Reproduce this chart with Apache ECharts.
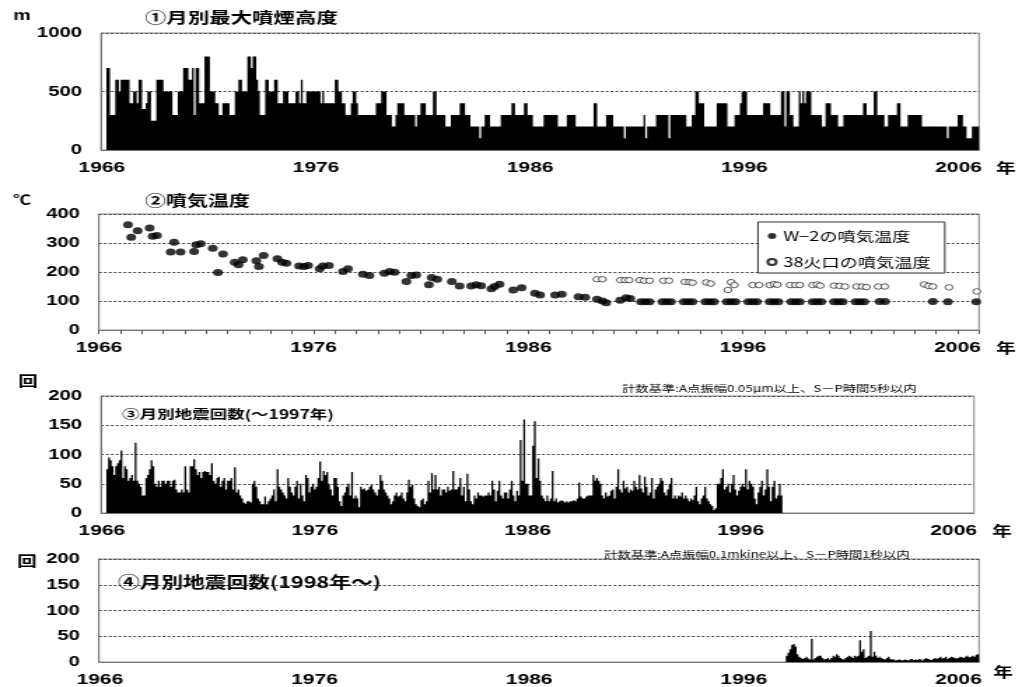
<!DOCTYPE html>
<html>
<head>
<meta charset="utf-8">
<title>月別最大噴煙高度・噴気温度・月別地震回数</title>
<script src="https://cdn.jsdelivr.net/npm/echarts@6/dist/echarts.min.js"></script>
<style>
html, body { margin: 0; padding: 0; background: #fff; overflow: hidden; }
/* the original figure is stretched sideways, so the whole chart is too */
#main { width: 726px; height: 687px; transform: scaleX(1.4); transform-origin: 0 0; }
</style>
</head>
<body>
<div id="main"></div>
<script>
var startYear = 1966, endYear = 2007;

// ①月別最大噴煙高度 (m), 1966-2006, one row per year
var smokeHeight = [
	[0,0,0,700,700,300,300,300,600,600,500,600],
	[600,600,600,600,400,400,500,500,400,600,600,350],
	[350,400,500,500,250,250,250,600,600,600,600,500],
	[500,500,500,500,300,300,300,500,500,500,700,700],
	[700,600,600,700,300,700,700,400,400,400,800,800],
	[800,500,500,500,400,400,300,300,400,400,400,400],
	[300,300,300,500,500,600,600,500,500,500,800,800],
	[700,800,800,600,500,300,300,300,600,600,500,500],
	[500,600,600,400,400,400,500,500,500,400,400,400],
	[400,500,500,400,600,400,400,500,500,500,500,500],
	[500,500,500,400,500,400,400,400,400,400,400,600],
	[600,500,500,400,400,300,300,300,400,500,500,400],
	[300,300,300,300,300,300,300,300,300,300,400,400],
	[400,500,500,500,300,300,300,200,200,300,400,400],
	[400,400,300,300,300,300,300,300,200,300,300,400],
	[400,400,300,300,300,300,500,500,300,300,300,300],
	[300,200,200,200,300,300,300,300,300,400,400,400],
	[300,300,300,200,200,200,200,200,100,200,200,300],
	[300,300,200,200,200,200,200,200,300,300,300,300],
	[300,300,400,400,300,300,300,300,300,400,400,300],
	[300,300,200,200,200,200,200,200,300,300,300,300],
	[300,300,300,300,200,200,200,200,200,300,300,300],
	[300,300,200,200,200,200,200,200,200,200,200,200],
	[400,400,200,200,200,200,200,300,300,300,300,200],
	[200,200,200,200,200,100,200,200,200,200,200,200],
	[200,200,200,200,300,100,200,200,200,200,200,300],
	[300,300,300,300,300,300,100,300,300,300,300,300],
	[300,300,300,300,200,200,200,300,300,500,500,400],
	[400,400,200,200,200,200,200,200,200,400,400,400],
	[400,400,400,200,200,200,200,300,300,300,400,500],
	[500,500,300,300,300,300,300,300,300,300,300,400],
	[400,400,400,300,300,300,300,300,300,500,500,200],
	[500,500,300,300,200,200,200,500,400,500,400,500],
	[500,500,300,300,300,300,300,300,200,200,400,400],
	[400,300,300,300,300,200,200,200,300,300,300,300],
	[300,300,300,300,300,300,300,400,400,300,300,300],
	[300,500,500,300,300,300,300,200,200,300,300,300],
	[300,300,400,400,200,200,200,200,300,300,300,300],
	[300,300,300,300,200,200,200,200,200,200,200,200],
	[200,200,200,200,200,200,100,200,200,200,200,200],
	[300,300,300,200,200,100,100,100,200,200,200,200]
];

// ②噴気温度 (℃): [year, value]
var w2Temp = [
	[1967.35,363],[1967.5,320],[1967.8,342],
	[1968.36,352],[1968.5,323],[1968.7,326],
	[1969.34,269],[1969.5,303],[1969.8,269],
	[1970.43,271],[1970.53,294],[1970.74,297],
	[1971.3,282],[1971.54,198],[1971.78,262],
	[1972.32,234],[1972.5,225],[1972.7,242],
	[1973.33,239],[1973.45,219],[1973.67,257],
	[1974.31,246],[1974.53,234],[1974.73,230],
	[1975.32,221],[1975.55,219],[1975.74,222],
	[1976.28,211],[1976.43,221],[1976.71,222],
	[1977.37,202],[1977.6,211],
	[1978.3,192],[1978.6,188],
	[1979.3,196],[1979.54,202],[1979.77,199],
	[1980.32,167],[1980.55,188],[1980.78,190],
	[1981.37,156],[1981.5,181],[1981.76,175],
	[1982.44,167],[1982.8,152],
	[1983.34,152],[1983.57,156],[1983.8,153],
	[1984.28,142],[1984.43,150],[1984.66,158],
	[1985.3,138],[1985.69,146],
	[1986.31,127],[1986.55,121],
	[1987.25,121],[1987.56,123],
	[1988.34,115],[1988.65,113],
	[1989.2,106],[1989.45,100],[1989.63,94],
	[1990.28,103],[1990.56,111],[1990.75,109],
	[1991.25,97],[1991.45,97],[1991.65,97],
	[1992.25,97],[1992.45,97],[1992.65,97],
	[1993.25,97],[1993.45,97],[1993.65,97],
	[1994.25,97],[1994.45,97],[1994.65,97],
	[1995.25,97],[1995.45,97],[1995.65,97],
	[1996.25,97],[1996.45,97],[1996.65,97],
	[1997.25,97],[1997.45,97],[1997.65,97],
	[1998.25,97],[1998.45,97],[1998.65,97],
	[1999.25,97],[1999.45,97],[1999.65,97],
	[2000.25,97],[2000.45,97],[2000.65,97],
	[2001.25,97],[2001.45,97],[2001.65,97],
	[2002.37,98],[2002.62,98],
	[2004.85,98],[2005.55,97],[2006.87,97]
];
var crater38Temp = [
	[1989.2,175],[1989.45,175],
	[1990.3,172],[1990.5,172],[1990.7,172],
	[1991.2,172],[1991.4,170],[1991.65,170],
	[1992.3,170],[1992.55,170],
	[1993.3,166],[1993.5,165],[1993.65,163],
	[1994.3,164],[1994.5,160],
	[1995.3,138],[1995.45,165],[1995.6,155],
	[1996.45,155],[1996.75,155],
	[1997.25,155],[1997.45,158],[1997.6,156],
	[1998.2,155],[1998.45,155],[1998.65,155],
	[1999.25,155],[1999.45,157],[1999.6,153],
	[2000.25,153],[2000.5,152],[2000.75,150],
	[2001.3,150],[2001.55,150],[2001.75,148],
	[2002.3,150],[2002.6,150],
	[2004.45,157],[2004.65,152],[2004.85,150],
	[2005.6,147],
	[2006.9,133]
];

// ③月別地震回数(～1997年), 1966-1997
var quakeOld = [
	[0,0,0,75,95,90,80,65,80,85,90,107],
	[60,80,75,55,60,65,55,120,55,50,45,30],
	[30,60,65,75,90,80,50,45,55,45,55,55],
	[50,55,55,45,55,57,40,35,35,40,35,80],
	[40,35,80,80,92,75,65,70,60,70,72,70],
	[70,65,85,55,50,60,62,45,55,60,40,55],
	[55,60,40,78,35,40,30,25,18,16,20,20],
	[18,50,55,45,25,20,15,15,28,15,20,25],
	[30,40,20,75,45,40,35,30,25,60,45,35],
	[30,45,55,25,50,30,20,65,60,35,45,50],
	[40,45,60,88,55,72,65,70,50,40,30,60],
	[60,45,20,12,30,35,45,50,30,70,25,30],
	[25,10,45,40,42,38,40,45,48,40,35,30],
	[40,65,55,40,35,30,25,15,20,30,35,28],
	[30,35,25,20,35,57,45,48,25,15,12,10],
	[22,25,15,20,55,35,68,40,65,40,45,30],
	[40,40,35,45,38,40,72,40,40,45,60,30],
	[45,20,67,40,20,15,30,25,35,30,30,28],
	[30,30,35,30,55,40,20,38,55,30,25,35],
	[35,25,40,55,30,20,38,30,125,55,160,50],
	[50,30,30,115,157,60,93,55,30,25,20,30],
	[20,25,72,20,25,18,20,22,20,18,20,18],
	[20,20,22,20,25,52,28,25,25,28,30,30],
	[30,65,55,60,55,50,30,25,35,28,30,38],
	[40,25,45,75,40,35,55,42,45,35,40,38],
	[55,45,40,65,42,35,62,45,30,35,60,25],
	[40,45,50,60,55,35,30,40,50,60,25,30],
	[25,30,28,35,25,30,25,20,25,22,30,45],
	[20,15,25,30,45,25,20,15,12,5,8,50],
	[50,60,75,40,45,50,35,50,65,40,30,38],
	[45,50,45,75,40,55,50,45,25,15,35,45],
	[55,30,40,75,45,20,45,55,25,30,50,30]
];

// ④月別地震回数(1998年～), 1998-2006
var quakeNewStart = 1998;
var quakeNew = [
	[12,18,25,33,35,30,15,10,8,6,8,10],
	[7,5,45,5,8,10,12,12,8,5,6,8],
	[5,8,12,10,15,12,8,6,5,8,10,12],
	[10,8,12,10,12,42,20,25,8,10,12,60],
	[10,20,12,8,10,8,6,5,8,10,6,5],
	[5,3,4,5,4,3,5,4,3,5,6,4],
	[5,4,6,5,3,6,8,6,5,4,6,8],
	[6,8,10,7,8,10,6,8,10,9,8,7],
	[8,10,9,8,10,12,9,10,12,10,14,15]
];

var notes = [
	'計数基準:A点振幅0.05μm以上、S－P時間5秒以内',
	'計数基準:A点振幅0.1mkine以上、S－P時間1秒以内'
];

//------------------------------------------------------------
var S = 1.4; // sideways stretch
function X(px) { return px / S; }
var numFont = 'Liberation Sans';
var jpFont = 'Noto Sans CJK JP';
var dash = { color: '#444', type: [2, 1.5], width: 1 };

function flat(rows) { return [].concat.apply([], rows); }

var months = [];
for (var y = startYear; y < endYear; y++) {
	for (var m = 1; m <= 12; m++) months.push(y + '-' + (m < 10 ? '0' : '') + m);
}
var quakeNewData = [];
for (var i = 0; i < (quakeNewStart - startYear) * 12; i++) quakeNewData.push('-');
quakeNewData = quakeNewData.concat(flat(quakeNew));

var xLabel = { margin: 10, color: '#000', fontFamily: numFont, fontWeight: 'bold', fontSize: 15 };
var axisLine = { show: true, lineStyle: { color: '#777', width: 1 } };

function monthAxis(grid) {
	return {
		type: 'category', gridIndex: grid, data: months, boundaryGap: true,
		axisLine: axisLine,
		axisTick: { length: 4, interval: function (i) { return i % 12 === 0; }, lineStyle: { color: '#555' } },
		axisLabel: Object.assign({
			interval: function (i) { return i % 120 === 0; },
			formatter: function (v) { return v.slice(0, 4); }
		}, xLabel),
		splitLine: { show: false }
	};
}

function valAxis(grid, max, step) {
	return {
		type: 'value', gridIndex: grid, min: 0, max: max, interval: step,
		axisLine: axisLine,
		axisTick: { show: false },
		axisLabel: {
			margin: X(19), color: '#000', fontFamily: numFont, fontWeight: 'bold', fontSize: 14.5,
			formatter: function (v) { return String(v); }
		},
		splitLine: { show: true, lineStyle: dash }
	};
}

// monthly bars, drawn as one filled path so neighbouring months merge
function monthBars(name, axis, data) {
	return {
		type: 'bar', name: name, xAxisIndex: axis, yAxisIndex: axis, data: data,
		barCategoryGap: '0%', large: true, largeThreshold: 100,
		itemStyle: { color: '#000' }, silent: true
	};
}

function gridBox(left, right, top, height) {
	return { left: X(left), width: X(right - left), top: top, height: height, show: true,
		borderColor: '#888', borderWidth: 1, containLabel: false, outerBoundsMode: 'none' };
}

function txt(text, x, y, size, weight, family, align) {
	return { type: 'text', x: X(x), y: y, z: 100,
		style: { text: text, fontSize: size, fontWeight: weight, fontFamily: family,
			fill: '#000', align: align || 'left', verticalAlign: 'middle' } };
}

var myChart = echarts.init(document.getElementById('main'));
var option = {
	animation: false,
	backgroundColor: '#fff',
	grid: [
		gridBox(101, 979, 33, 117),
		gridBox(99, 979, 214, 116),
		gridBox(101, 974, 396, 117),
		gridBox(99, 979, 559, 103)
	],
	xAxis: [
		monthAxis(0),
		{
			type: 'value', gridIndex: 1, min: startYear, max: endYear, interval: 1,
			axisLine: axisLine,
			axisTick: { length: 4, lineStyle: { color: '#555' } },
			axisLabel: Object.assign({
				formatter: function (v) { return (v - startYear) % 10 === 0 && v < endYear ? String(v) : ''; }
			}, xLabel),
			splitLine: { show: false }
		},
		monthAxis(2),
		monthAxis(3)
	],
	yAxis: [
		valAxis(0, 1000, 500),
		valAxis(1, 400, 100),
		valAxis(2, 200, 50),
		valAxis(3, 200, 50)
	],
	legend: {
		orient: 'vertical', left: X(758), top: 222,
		padding: [6, 10, 3, 6], itemGap: 10, itemWidth: 6, itemHeight: 6,
		borderColor: '#333', borderWidth: 1, backgroundColor: '#fff',
		selectedMode: false,
		textStyle: { fontFamily: jpFont, fontSize: 13, color: '#000', lineHeight: 16 },
		data: ['W−2の噴気温度', '38火口の噴気温度']
	},
	series: [
		monthBars('月別最大噴煙高度', 0, flat(smokeHeight)),
		{
			type: 'scatter', name: 'W−2の噴気温度', xAxisIndex: 1, yAxisIndex: 1,
			data: w2Temp, symbol: 'circle', symbolSize: 7, itemStyle: { color: '#000' }, silent: true
		},
		{
			type: 'scatter', name: '38火口の噴気温度', xAxisIndex: 1, yAxisIndex: 1,
			data: crater38Temp, symbol: 'circle', symbolSize: 5.5,
			itemStyle: { color: '#fff', borderColor: '#000', borderWidth: 0.8 }, silent: true
		},
		monthBars('月別地震回数(～1997年)', 2, flat(quakeOld)),
		monthBars('月別地震回数(1998年～)', 3, quakeNewData)
	],
	graphic: [
		txt('m', 22, 16, 14, 'bold', numFont, 'center'),
		txt('①月別最大噴煙高度', 145, 17, 15.3, 'bold', jpFont),
		txt('年', 1006, 168, 14, 'bold', jpFont, 'center'),
		txt('℃', 22, 199, 13, 'bold', jpFont, 'center'),
		txt('②噴気温度', 145, 200, 15, 'bold', jpFont),
		txt('年', 1006, 348, 14, 'bold', jpFont, 'center'),
		txt('回', 28, 381, 14, 'bold', jpFont, 'center'),
		txt(notes[0], 622, 388, 9.5, 'normal', jpFont),
		txt('③月別地震回数(～1997年)', 122, 414, 12.5, 'bold', jpFont),
		txt('年', 1002, 531, 14, 'bold', jpFont, 'center'),
		txt('回', 27, 561, 14, 'bold', jpFont, 'center'),
		txt(notes[1], 604, 554, 9.5, 'normal', jpFont),
		txt('④月別地震回数(1998年～)', 118, 582, 15.5, 'bold', jpFont),
		txt('年', 1003, 672, 14, 'bold', jpFont, 'center')
	]
};
myChart.setOption(option);
</script>
</body>
</html>
